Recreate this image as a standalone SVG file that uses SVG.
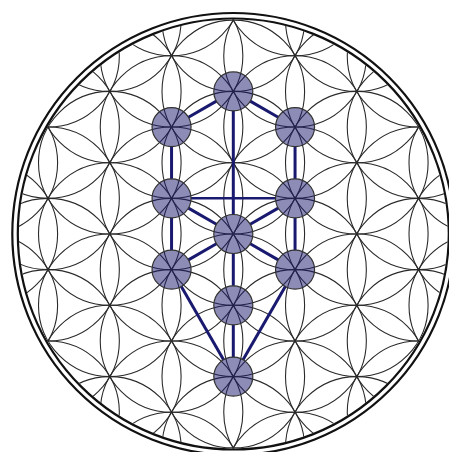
<svg xmlns="http://www.w3.org/2000/svg" width="449" height="452" viewBox="0 0 449 452">
<style>
.mesh circle{fill:none;stroke:#2a2a2a;stroke-width:1.1}
.ring{fill:none;stroke:#111;stroke-width:2.2}
.edge{stroke:#191970;stroke-width:3}
.node{fill:#191970;fill-opacity:0.5;stroke:#333;stroke-width:1.2}
</style>
<defs>
<clipPath id="clip"><circle cx="0" cy="0" r="214.5"/></clipPath>
</defs>
<rect width="449" height="452" fill="#fff"/>
<g id="rings">
<circle class="ring" cx="233.3" cy="234" r="221"/>
<circle class="ring" cx="233.3" cy="234" r="215.5"/>
</g>
<g id="flower" class="mesh" transform="translate(233.3,234)" clip-path="url(#clip)">
<circle cx="0" cy="0" r="71.3"/>
<circle cx="0" cy="71.3" r="71.3"/><circle cx="0" cy="-71.3" r="71.3"/>
<circle cx="0" cy="142.6" r="71.3"/><circle cx="0" cy="-142.6" r="71.3"/>
<circle cx="0" cy="213.9" r="71.3"/><circle cx="0" cy="-213.9" r="71.3"/>
<circle cx="61.75" cy="35.65" r="71.3"/><circle cx="61.75" cy="-35.65" r="71.3"/>
<circle cx="61.75" cy="106.95" r="71.3"/><circle cx="61.75" cy="-106.95" r="71.3"/>
<circle cx="61.75" cy="178.25" r="71.3"/><circle cx="61.75" cy="-178.25" r="71.3"/>
<circle cx="61.75" cy="249.55" r="71.3"/><circle cx="61.75" cy="-249.55" r="71.3"/>
<circle cx="-61.75" cy="35.65" r="71.3"/><circle cx="-61.75" cy="-35.65" r="71.3"/>
<circle cx="-61.75" cy="106.95" r="71.3"/><circle cx="-61.75" cy="-106.95" r="71.3"/>
<circle cx="-61.75" cy="178.25" r="71.3"/><circle cx="-61.75" cy="-178.25" r="71.3"/>
<circle cx="-61.75" cy="249.55" r="71.3"/><circle cx="-61.75" cy="-249.55" r="71.3"/>
<circle cx="123.5" cy="0" r="71.3"/>
<circle cx="123.5" cy="71.3" r="71.3"/><circle cx="123.5" cy="-71.3" r="71.3"/>
<circle cx="123.5" cy="142.6" r="71.3"/><circle cx="123.5" cy="-142.6" r="71.3"/>
<circle cx="123.5" cy="213.9" r="71.3"/><circle cx="123.5" cy="-213.9" r="71.3"/>
<circle cx="-123.5" cy="0" r="71.3"/>
<circle cx="-123.5" cy="71.3" r="71.3"/><circle cx="-123.5" cy="-71.3" r="71.3"/>
<circle cx="-123.5" cy="142.6" r="71.3"/><circle cx="-123.5" cy="-142.6" r="71.3"/>
<circle cx="-123.5" cy="213.9" r="71.3"/><circle cx="-123.5" cy="-213.9" r="71.3"/>
<circle cx="185.25" cy="35.65" r="71.3"/><circle cx="185.25" cy="-35.65" r="71.3"/>
<circle cx="185.25" cy="106.95" r="71.3"/><circle cx="185.25" cy="-106.95" r="71.3"/>
<circle cx="185.25" cy="178.25" r="71.3"/><circle cx="185.25" cy="-178.25" r="71.3"/>
<circle cx="-185.25" cy="35.65" r="71.3"/><circle cx="-185.25" cy="-35.65" r="71.3"/>
<circle cx="-185.25" cy="106.95" r="71.3"/><circle cx="-185.25" cy="-106.95" r="71.3"/>
<circle cx="-185.25" cy="178.25" r="71.3"/><circle cx="-185.25" cy="-178.25" r="71.3"/>
<circle cx="247" cy="0" r="71.3"/>
<circle cx="247" cy="71.3" r="71.3"/><circle cx="247" cy="-71.3" r="71.3"/>
<circle cx="-247" cy="0" r="71.3"/>
<circle cx="-247" cy="71.3" r="71.3"/><circle cx="-247" cy="-71.3" r="71.3"/>
</g>
<g id="connectors">
<line class="edge" x1="216.41" y1="101.15" x2="188.44" y2="117.3"/>
<line class="edge" x1="250.19" y1="101.15" x2="278.16" y2="117.3"/>
<line class="edge" x1="233.3" y1="110.9" x2="233.3" y2="214.5"/>
<line class="edge" x1="171.55" y1="146.55" x2="171.55" y2="178.85"/>
<line class="edge" x1="295.05" y1="146.55" x2="295.05" y2="178.85"/>
<line class="edge" x1="191.05" y1="198.35" x2="275.55" y2="198.35" style="stroke-width:2.5"/>
<line class="edge" x1="188.44" y1="208.1" x2="216.41" y2="224.25"/>
<line class="edge" x1="278.16" y1="208.1" x2="250.19" y2="224.25"/>
<line class="edge" x1="171.55" y1="217.85" x2="171.55" y2="250.15"/>
<line class="edge" x1="295.05" y1="217.85" x2="295.05" y2="250.15"/>
<line class="edge" x1="188.44" y1="259.9" x2="216.41" y2="243.75"/>
<line class="edge" x1="278.16" y1="259.9" x2="250.19" y2="243.75"/>
<line class="edge" x1="233.3" y1="253.5" x2="233.3" y2="285.8"/>
<line class="edge" x1="181.3" y1="286.54" x2="223.55" y2="359.71"/>
<line class="edge" x1="285.3" y1="286.54" x2="243.05" y2="359.71"/>
<line class="edge" x1="233.3" y1="324.8" x2="233.3" y2="357.1"/>
</g>
<g id="n-top"><circle class="node" cx="233.3" cy="91.4" r="19.5"/></g>
<g id="n-upper-left"><circle class="node" cx="171.55" cy="127.05" r="19.5"/></g>
<g id="n-upper-right"><circle class="node" cx="295.05" cy="127.05" r="19.5"/></g>
<g id="n-mid-left"><circle class="node" cx="171.55" cy="198.35" r="19.5"/></g>
<g id="n-mid-right"><circle class="node" cx="295.05" cy="198.35" r="19.5"/></g>
<g id="n-center"><circle class="node" cx="233.3" cy="234" r="19.5"/></g>
<g id="n-lower-left"><circle class="node" cx="171.55" cy="269.65" r="19.5"/></g>
<g id="n-lower-right"><circle class="node" cx="295.05" cy="269.65" r="19.5"/></g>
<g id="n-lower-center"><circle class="node" cx="233.3" cy="305.3" r="19.5"/></g>
<g id="n-bottom"><circle class="node" cx="233.3" cy="376.6" r="19.5"/></g>
</svg>
